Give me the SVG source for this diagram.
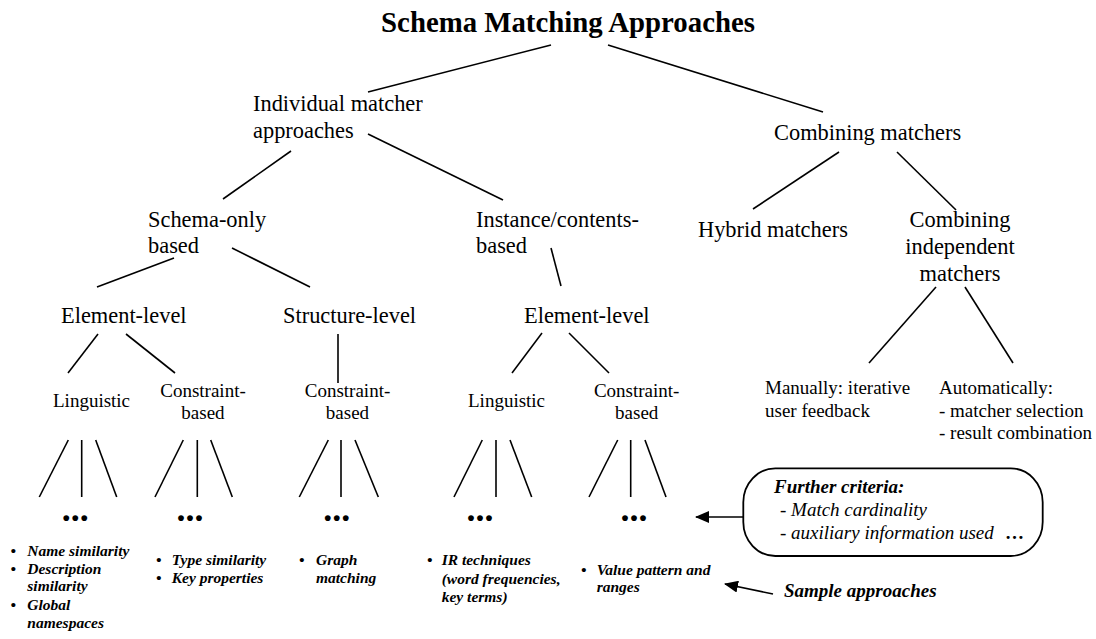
<svg xmlns="http://www.w3.org/2000/svg" width="1096" height="639" viewBox="0 0 1096 639">
<style>
text{font-family:"Liberation Serif","Times New Roman",serif;fill:#000}
.t{font-size:28.8px;font-weight:bold}
.l{font-size:22.4px}
.s{font-size:19px}
.m{text-anchor:middle}
.b{font-size:15.5px;font-weight:bold;font-style:italic}
.d{font-size:36px;font-weight:bold;text-anchor:middle}
.bi{font-size:19px;font-weight:bold;font-style:italic}
.i{font-size:19px;font-style:italic}
#connectors line{stroke:#000;stroke-width:1.6;fill:none}
.box{fill:#fff;stroke:#000;stroke-width:1.8}
</style>
<defs>
<marker id="ah" viewBox="0 0 14 12" refX="13" refY="6" markerWidth="14" markerHeight="12" orient="auto" markerUnits="userSpaceOnUse">
<path d="M0,0 L14,6 L0,12 z" fill="#000"/>
</marker>
</defs>
<rect width="1096" height="639" fill="#fff"/>

<g id="connectors">
<line x1="551" y1="45" x2="368" y2="92"/>
<line x1="608" y1="45" x2="823" y2="112"/>
<line x1="291" y1="151" x2="223" y2="199"/>
<line x1="368" y1="134" x2="503" y2="200"/>
<line x1="174" y1="258" x2="97" y2="287"/>
<line x1="232" y1="248" x2="310" y2="287"/>
<line x1="551" y1="248" x2="561" y2="286"/>
<line x1="98" y1="334" x2="68" y2="373"/>
<line x1="126" y1="334" x2="175" y2="373"/>
<line x1="338" y1="334" x2="338" y2="383"/>
<line x1="542" y1="333" x2="512" y2="373"/>
<line x1="569" y1="333" x2="609" y2="373"/>
<line x1="839" y1="152" x2="753" y2="209"/>
<line x1="897" y1="152" x2="956" y2="210"/>
<line x1="936" y1="287" x2="869" y2="363"/>
<line x1="965" y1="287" x2="1013" y2="363"/>
<line x1="68.3" y1="440" x2="39.3" y2="497"/>
<line x1="81.7" y1="440" x2="81.7" y2="497"/>
<line x1="95.7" y1="440" x2="116.7" y2="497"/>
<line x1="183.3" y1="440" x2="155" y2="497"/>
<line x1="197.3" y1="440" x2="197.3" y2="497"/>
<line x1="210.7" y1="440" x2="232.3" y2="497"/>
<line x1="328.3" y1="440" x2="299.3" y2="497"/>
<line x1="341" y1="440" x2="341" y2="497"/>
<line x1="355" y1="440" x2="378.3" y2="497"/>
<line x1="482.3" y1="440" x2="454" y2="497"/>
<line x1="496" y1="440" x2="496" y2="497"/>
<line x1="510" y1="440" x2="531.7" y2="497"/>
<line x1="617.7" y1="440" x2="589" y2="497"/>
<line x1="630.7" y1="440" x2="630.7" y2="497"/>
<line x1="645" y1="440" x2="666" y2="497"/>
<line x1="743" y1="517" x2="696" y2="517" marker-end="url(#ah)"/>
<line x1="773" y1="594" x2="725" y2="584" marker-end="url(#ah)"/>
</g>

<g id="title"><text class="t m" x="568" y="32">Schema Matching Approaches</text></g>
<g id="individual"><text class="l" x="253" y="111">Individual matcher</text><text class="l" x="253" y="137.5">approaches</text></g>
<g id="combining"><text class="l" x="774" y="140">Combining matchers</text></g>
<g id="schema-only"><text class="l" x="148" y="227">Schema-only</text><text class="l" x="148" y="253">based</text></g>
<g id="instance"><text class="l" x="476" y="227">Instance/contents-</text><text class="l" x="476" y="253">based</text></g>
<g id="hybrid"><text class="l" x="698" y="237">Hybrid matchers</text></g>
<g id="combining-independent"><text class="l m" x="960" y="227">Combining</text><text class="l m" x="960" y="254">independent</text><text class="l m" x="960" y="281">matchers</text></g>
<g id="element-level-1"><text class="l" x="61" y="323">Element-level</text></g>
<g id="structure-level"><text class="l" x="283" y="323">Structure-level</text></g>
<g id="element-level-2"><text class="l" x="524" y="323">Element-level</text></g>
<g id="linguistic-1"><text class="s" x="53" y="407">Linguistic</text></g>
<g id="constraint-1"><text class="s m" x="203" y="397">Constraint-</text><text class="s m" x="203" y="419">based</text></g>
<g id="constraint-2"><text class="s m" x="347.5" y="397">Constraint-</text><text class="s m" x="347.5" y="419">based</text></g>
<g id="linguistic-2"><text class="s" x="468" y="407">Linguistic</text></g>
<g id="constraint-3"><text class="s m" x="636.7" y="397">Constraint-</text><text class="s m" x="636.7" y="419">based</text></g>
<g id="manually"><text class="s" x="765" y="394">Manually: iterative</text><text class="s" x="765" y="416.5">user feedback</text></g>
<g id="automatically"><text class="s" x="939" y="394">Automatically:</text><text class="s" x="939" y="416.5">- matcher selection</text><text class="s" x="939" y="439">- result combination</text></g>

<g id="dots-1"><text class="d" x="75.3" y="520.5">...</text></g>
<g id="dots-2"><text class="d" x="190" y="520.5">...</text></g>
<g id="dots-3"><text class="d" x="336.7" y="520.5">...</text></g>
<g id="dots-4"><text class="d" x="480" y="520.5">...</text></g>
<g id="dots-5"><text class="d" x="634" y="520.5">...</text></g>

<g id="samples-1">
<text class="b" x="10.6" y="556">•</text><text class="b" x="27.3" y="556">Name similarity</text>
<text class="b" x="10.6" y="574">•</text><text class="b" x="27.3" y="574">Description</text>
<text class="b" x="27.3" y="591">similarity</text>
<text class="b" x="10.6" y="610">•</text><text class="b" x="27.3" y="610">Global</text>
<text class="b" x="27.3" y="628">namespaces</text>
</g>
<g id="samples-2">
<text class="b" x="156" y="565">•</text><text class="b" x="171.7" y="565">Type similarity</text>
<text class="b" x="156" y="583">•</text><text class="b" x="171.7" y="583">Key properties</text>
</g>
<g id="samples-3">
<text class="b" x="299" y="565">•</text><text class="b" x="316" y="565">Graph</text>
<text class="b" x="316" y="583">matching</text>
</g>
<g id="samples-4">
<text class="b" x="427" y="565">•</text><text class="b" x="441.7" y="565">IR techniques</text>
<text class="b" x="441.7" y="584">(word frequencies,</text>
<text class="b" x="441.7" y="602">key terms)</text>
</g>
<g id="samples-5">
<text class="b" x="581" y="575">•</text><text class="b" x="596.7" y="575">Value pattern and</text>
<text class="b" x="596.7" y="592">ranges</text>
</g>

<g id="further-criteria">
<rect class="box" x="743.3" y="468.3" width="299.4" height="87.7" rx="32" ry="34"/>
<text class="bi" x="774" y="492.7">Further criteria:</text>
<text class="i" x="780" y="516">- Match cardinality</text>
<text class="i" x="780" y="539.3">- auxiliary information used</text>
<text class="bi" x="1005" y="539.3" style="font-style:normal">…</text>
</g>
<g id="sample-approaches"><text class="bi" x="784" y="597">Sample approaches</text></g>
</svg>
